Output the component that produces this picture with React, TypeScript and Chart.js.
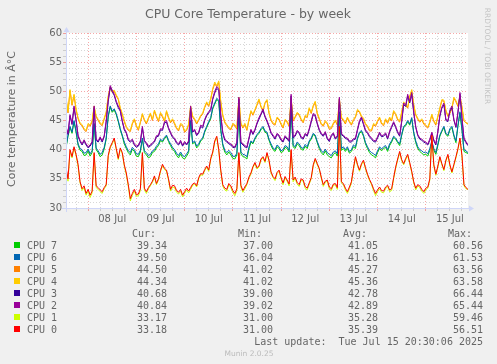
import React, { useEffect, useRef } from 'react';
import { Chart, registerables } from 'chart.js';

Chart.register(...registerables);

// ---- time axis (hours from the first sample, one sample per hour) ----
const STEP_HOURS = 1;
const X_MAX = 200;
const FIRST_MIDNIGHT = 11; // hours from start to 08 Jul 00:00
const DAY_LABELS = ['08 Jul', '09 Jul', '10 Jul', '11 Jul', '12 Jul', '13 Jul', '14 Jul', '15 Jul'];
const Y_MIN = 30;
const Y_MAX = 60;

// ---- series ----
const CPU0 = [37, 35, 40, 38.8, 40.5, 39.2, 37.5, 34.5, 33.3, 33.8, 32.5, 33.2, 32.2, 32.9, 39.5, 33.8, 33.5, 33.1, 32.8, 33.5, 34,
  39, 40.5, 41.2, 42, 40.2, 38.5, 40.3, 39.5, 37.4, 36, 34, 31.6, 32.5, 33.2, 32.3, 32.4, 33.3, 39.5, 33.4, 32.8,
  33.5, 34, 34.6, 35.5, 34.2, 35, 36.4, 37.5, 36.8, 36.5, 35, 33.2, 33.9, 33.8, 33, 32.7, 33.2, 32.2, 32.8, 33.4,
  32.9, 33.5, 34.1, 34.3, 33.8, 35.2, 35.9, 35.8, 36.6, 37.2, 36.5, 38.5, 39.6, 41.5, 42.3, 40, 36.5, 34, 33.4, 33.2,
  34.2, 33.8, 33, 32.5, 33.3, 39.5, 33.9, 33, 33.6, 34.2, 35.3, 36, 37.1, 37.8, 36.9, 37.2, 38.4, 38.8, 38, 39.5,
  38.2, 36.2, 35.4, 35, 36.1, 36.5, 35.2, 34.3, 35.4, 34.8, 34.1, 40, 34.8, 35.3, 34.4, 34, 35, 34.8, 33.7, 33.4,
  34.3, 35.2, 37.4, 38.5, 37.6, 36.8, 35.3, 34, 34.6, 34.8, 33.6, 33.3, 34.1, 34.2, 33.5, 44, 34.5, 34.2, 33.4, 32.8,
  33.6, 34.5, 36.8, 38.8, 37.5, 36.5, 37.6, 38.2, 36.9, 35.8, 34.9, 34.2, 33.3, 32.5, 33.1, 33.6, 33, 32.9, 33.6, 33.9,
  33.1, 33.3, 35.2, 37, 38.4, 39.7, 38.3, 37.6, 38.5, 39.2, 37.8, 36.3, 34.5, 33.4, 34, 33.8, 33.2, 32.8, 33.4, 33.6,
  35, 42.5, 37.4, 35.8, 37.2, 38.8, 37.6, 36.6, 38.2, 39.2, 37.4, 36.2, 37.5, 38.8, 40.2, 42, 39, 34, 33.5, 33.18];
const CPU1 = [36.7, 34.6, 39.8, 38.6, 40.3, 39, 37.2, 34.3, 33, 33.5, 32.2, 32.9, 31.8, 32.6, 39.3, 33.5, 33.2, 32.8, 32.5, 33.3, 33.8,
  38.8, 40.3, 41, 41.8, 40, 38.3, 40.1, 39.3, 37.2, 35.7, 33.7, 31.2, 32.2, 32.9, 32, 32.1, 33, 39.3, 33.1, 32.5,
  33.3, 33.8, 34.4, 35.3, 34, 34.8, 36.2, 37.3, 36.6, 36.3, 34.8, 32.9, 33.6, 33.5, 32.7, 32.4, 32.9, 31.9, 32.5, 33.1,
  32.6, 33.2, 33.9, 34.1, 33.6, 35, 35.7, 35.6, 36.4, 37, 36.3, 38.3, 39.4, 41.3, 42.1, 39.8, 36.3, 33.7, 33.1, 32.9,
  34, 33.5, 32.7, 32.1, 33, 39.3, 33.6, 32.7, 33.3, 34, 35.1, 35.8, 36.9, 37.6, 36.7, 37, 38.2, 38.6, 37.8, 39.3,
  38, 36, 35.2, 34.7, 35.9, 36.3, 35, 34, 35.2, 34.6, 33.8, 39.8, 34.5, 35.1, 34.1, 33.7, 34.8, 34.6, 33.4, 33.1,
  34.1, 35, 37.2, 38.3, 37.4, 36.6, 35.1, 33.7, 34.4, 34.6, 33.3, 33, 33.9, 34, 33.2, 43.8, 34.3, 34, 33.1, 32.5,
  33.3, 34.3, 36.6, 38.6, 37.3, 36.3, 37.4, 38, 36.7, 35.6, 34.7, 34, 33, 32.1, 32.8, 33.3, 32.7, 32.6, 33.3, 33.7,
  32.8, 33, 35, 36.8, 38.2, 39.5, 38.1, 37.4, 38.3, 39, 37.6, 36.1, 34.3, 33.1, 33.8, 33.5, 32.9, 32.5, 33.1, 33.4,
  34.8, 42.3, 37.2, 35.6, 37, 38.6, 37.4, 36.4, 38, 39, 37.2, 36, 37.3, 38.6, 40, 41.8, 38.8, 33.8, 33.3, 33.17];
const CPU2 = [44, 42.8, 46, 44.5, 47.5, 45.2, 42.5, 41.6, 41, 41.7, 41, 40.5, 40.8, 41.4, 47.5, 41.8, 41.5, 42.2, 41.5, 42.4, 45,
  48.5, 51, 50.2, 49.5, 48.3, 47.5, 46.8, 45, 43.6, 43, 41.8, 41.5, 41.8, 41, 40.6, 40.8, 41.5, 44, 41.6, 41.2,
  40.6, 40.8, 41.2, 41.5, 42.4, 42.5, 43.6, 43.5, 44.8, 45, 43.8, 43, 42.3, 42, 41.3, 41, 41.6, 40.8, 41.4, 41,
  41.5, 47.5, 43.2, 43.5, 42.6, 43, 44.2, 44, 45.2, 46, 46.5, 47, 48.8, 50, 50.8, 50.5, 46, 43, 41.8, 41.5,
  41.2, 41, 40.6, 40.5, 41.3, 49, 41.4, 41, 40.7, 40.5, 42, 43.5, 42.8, 43.5, 44.6, 45.5, 46.2, 47, 45.8, 45,
  44.1, 43, 42.5, 42, 42.8, 42.5, 41.8, 41.5, 42.4, 42, 41.6, 49.5, 42.2, 42.5, 43.3, 43, 42.2, 42, 42.8, 42.5,
  43.6, 45, 46.2, 46, 44.6, 43.5, 42.8, 42.5, 43.1, 42, 41.6, 42.5, 42.9, 42, 42.4, 49, 42.8, 42.5, 42.1, 42,
  41.5, 41.5, 41.9, 42, 43.5, 45, 45.6, 44.5, 43.4, 43, 42.4, 42, 41.6, 41.5, 42.2, 43, 42.4, 42.5, 42.9, 42,
  43.2, 44, 44.8, 44, 43.1, 42.5, 44.9, 48, 47.6, 49.5, 48.2, 49.8, 46.5, 44, 42.6, 42, 41.8, 41.5, 41.3, 41,
  41.8, 43, 41.7, 41, 43.2, 46, 47.3, 48, 45.2, 45, 46.8, 47.5, 45.2, 44, 46.5, 49.8, 45.5, 42, 41.4, 40.84];
const CPU3 = [43.8, 42.6, 45.8, 44.3, 47.2, 45, 42.3, 41.4, 40.8, 41.5, 40.8, 40.3, 40.6, 41.2, 47.2, 41.6, 41.3, 42, 41.3, 42.2, 44.7,
  48.2, 50.7, 50, 49.3, 48.1, 47.2, 46.6, 44.8, 43.4, 42.8, 41.6, 41.3, 41.6, 40.8, 40.4, 40.6, 41.3, 43.7, 41.4, 41,
  40.4, 40.6, 41, 41.3, 42.2, 42.3, 43.4, 43.3, 44.6, 44.7, 43.6, 42.8, 42.1, 41.8, 41.1, 40.8, 41.4, 40.6, 41.2, 40.8,
  41.3, 47.2, 43, 43.3, 42.4, 42.8, 44, 43.7, 45, 45.8, 46.3, 46.7, 48.6, 49.7, 50.5, 50.2, 45.8, 42.8, 41.6, 41.3,
  41, 40.8, 40.4, 40.3, 41.1, 48.7, 41.2, 40.8, 40.5, 40.3, 41.8, 43.3, 42.6, 43.3, 44.4, 45.2, 46, 46.7, 45.6, 44.8,
  43.9, 42.8, 42.3, 41.8, 42.6, 42.3, 41.6, 41.3, 42.2, 41.8, 41.4, 49.2, 42, 42.3, 43.1, 42.8, 42, 41.8, 42.6, 42.3,
  43.4, 44.7, 46, 45.7, 44.4, 43.3, 42.6, 42.3, 42.9, 41.8, 41.4, 42.3, 42.7, 41.8, 42.2, 48.7, 42.6, 42.3, 41.9, 41.8,
  41.3, 41.3, 41.7, 41.8, 43.3, 44.7, 45.4, 44.3, 43.2, 42.8, 42.2, 41.8, 41.4, 41.3, 42, 42.8, 42.2, 42.3, 42.7, 41.8,
  43, 43.8, 44.6, 43.8, 42.9, 42.3, 44.7, 47.7, 47.4, 49.2, 48, 49.5, 46.3, 43.8, 42.4, 41.8, 41.6, 41.3, 41.1, 40.8,
  41.6, 42.8, 41.5, 40.8, 43, 45.7, 47.1, 47.7, 45, 44.8, 46.6, 47.2, 45, 43.8, 46.3, 49.5, 45.3, 41.8, 41.2, 40.68];
const CPU4 = [49, 46.5, 50.3, 47.8, 49.5, 47, 45.5, 44.6, 44.3, 43.6, 43.3, 44.5, 44.2, 45, 47.5, 45.8, 45.2, 44.6, 44.3, 45.4, 46.5,
  49.2, 50.8, 50, 50.2, 49.4, 48.8, 47.2, 46.2, 45, 44, 43.5, 43.3, 44.6, 45.3, 44.2, 43.5, 44.8, 46.2, 45.2, 44.6,
  45.5, 46.3, 45.2, 46.8, 45.8, 45, 46.4, 45.8, 45, 46.7, 45.6, 44.8, 45.3, 44.6, 43.8, 43.4, 44.5, 44.3, 43.2, 43.5,
  44.4, 47.5, 45.8, 45.3, 44.6, 45.2, 45.9, 46.3, 47.4, 48.2, 47.6, 48.8, 50.5, 51.6, 51, 51.8, 48.3, 46, 44.8, 44.3,
  43.8, 43.6, 44.5, 44.3, 43.7, 49, 44.6, 43.9, 44.5, 43.5, 45.2, 46.7, 46.1, 46.9, 47.8, 48.7, 47.5, 46.8, 48.1, 48.6,
  46.4, 45.2, 44.6, 44.4, 45.6, 45.3, 44.5, 43.9, 45.2, 44.9, 44.2, 49, 45.1, 45.7, 46.4, 46.1, 45.3, 44.8, 45.9, 45.7,
  47.2, 46.4, 47.6, 48.3, 46.3, 45.4, 44.5, 44.2, 45, 44.6, 43.7, 43.8, 44.6, 45.1, 44.4, 48.8, 45.6, 45.2, 44.6, 45.6,
  44.9, 44.4, 45.2, 45.7, 46.9, 46.6, 45.8, 45.4, 44.5, 44.1, 43.4, 43.4, 44.5, 44.2, 45, 45.6, 44.6, 44.3, 45.3, 44.7,
  45.6, 45.1, 46.7, 46.2, 45.3, 44.9, 46.5, 48.2, 47.8, 47.3, 49.2, 50.3, 47.8, 46.1, 45.4, 44.9, 45.3, 44.6, 44.2, 43.9,
  44.8, 46.1, 45, 44.4, 45.8, 47.2, 48.6, 48.5, 46.8, 45.9, 46.4, 47.2, 49, 48.4, 47.6, 49.2, 47.4, 45, 44.6, 44.34];
const CPU5 = [48.8, 46.3, 50.1, 47.6, 49.3, 46.8, 45.3, 44.4, 44.1, 43.4, 43.1, 44.3, 44, 44.8, 47.3, 45.6, 45, 44.4, 44.1, 45.2, 46.3,
  49, 50.6, 49.8, 50, 49.2, 48.6, 47, 46, 44.8, 43.8, 43.3, 43.1, 44.4, 45.1, 44, 43.3, 44.6, 46, 45, 44.4,
  45.3, 46.1, 45, 46.6, 45.6, 44.8, 46.2, 45.6, 44.8, 46.5, 45.4, 44.6, 45.1, 44.4, 43.6, 43.2, 44.3, 44.1, 43, 43.3,
  44.2, 47.3, 45.6, 45.1, 44.4, 45, 45.7, 46.1, 47.2, 48, 47.4, 48.6, 50.3, 51.3, 50.8, 51.5, 48.1, 45.8, 44.6, 44.1,
  43.6, 43.4, 44.3, 44.1, 43.5, 48.8, 44.4, 43.7, 44.3, 43.3, 45, 46.5, 45.9, 46.7, 47.6, 48.5, 47.3, 46.6, 47.9, 48.4,
  46.2, 45, 44.4, 44.2, 45.4, 45.1, 44.3, 43.7, 45, 44.7, 44, 48.8, 44.9, 45.5, 46.2, 45.9, 45.1, 44.6, 45.7, 45.5,
  47, 46.2, 47.4, 48.1, 46.1, 45.2, 44.3, 44, 44.8, 44.4, 43.5, 43.6, 44.4, 44.9, 44.2, 48.6, 45.4, 45, 44.4, 45.4,
  44.7, 44.2, 45, 45.5, 46.7, 46.4, 45.6, 45.2, 44.3, 43.9, 43.2, 43.2, 44.3, 44, 44.8, 45.4, 44.4, 44.1, 45.1, 44.5,
  45.4, 44.9, 46.5, 46, 45.1, 44.7, 46.3, 48, 47.6, 47.1, 49, 50.1, 47.6, 45.9, 45.2, 44.7, 45.1, 44.4, 44, 43.7,
  44.6, 45.9, 44.8, 44.2, 45.6, 47, 48.4, 48.3, 46.6, 45.7, 46.2, 47, 48.8, 48.2, 47.4, 49, 47.2, 44.9, 44.6, 44.5];
const CPU6 = [40.5, 42.5, 44, 43, 45, 43.2, 41, 40.2, 40, 39.4, 39.5, 40.1, 39.3, 39.8, 44.5, 40.3, 39.8, 39.2, 39.5, 40.4, 42,
  45.8, 47.5, 46.6, 47, 46.2, 45, 43.6, 42.5, 41.3, 40.5, 39.8, 39.5, 40.4, 40, 39.3, 39.2, 39.9, 42, 39.8, 39.5,
  39, 39.2, 39.8, 40, 40.6, 41, 41.8, 41.5, 42.1, 42.5, 41.6, 41, 40.4, 40, 39.4, 39, 39.6, 39, 38.8, 39.3,
  39.8, 45, 41.2, 41.5, 40.6, 41, 41.7, 42, 43.2, 44, 44.8, 45.5, 47.2, 48, 48.8, 48.5, 43.5, 41, 39.9, 39.5,
  39.9, 39.5, 38.9, 38.8, 39.4, 46.5, 39.6, 39.2, 39.1, 38.8, 40.4, 41.5, 41.2, 42, 42.6, 43, 43.6, 44, 43.2, 43,
  41.8, 41, 40.3, 40, 40.8, 40.5, 39.8, 40, 40.7, 40.5, 39.9, 47, 40.8, 40.5, 41.3, 41, 40.4, 40.2, 40.9, 40.5,
  41.5, 42, 42.8, 42.5, 41.4, 40.5, 39.8, 39.5, 40.1, 39.5, 39.2, 39, 39.6, 39.8, 39.3, 46.5, 40.2, 40.5, 40, 40.5,
  39.7, 40, 40.8, 40.5, 42, 43, 43.3, 42.5, 41.2, 40.5, 39.8, 39.5, 39.3, 39, 39.8, 40.5, 40.1, 40.5, 40.7, 40,
  41, 41.5, 42.3, 42, 41.4, 41, 42.6, 44, 44.3, 45, 44.4, 45.5, 43, 41.5, 40.5, 40, 39.8, 39.5, 39.6, 39.3,
  40.2, 41.5, 40.2, 39.5, 41, 42.5, 43.3, 44, 42.8, 42.5, 43.6, 44, 42.5, 41.5, 44.2, 46.5, 43.5, 40, 39.8, 39.5];
const CPU7 = [40.3, 42.3, 43.8, 42.8, 44.8, 43, 40.8, 39.9, 39.7, 39, 39.1, 39.8, 38.9, 39.5, 44.3, 40, 39.5, 38.8, 39.1, 40.1, 41.8,
  45.6, 47.3, 46.4, 46.8, 46, 44.8, 43.4, 42.3, 41, 40.2, 39.5, 39.1, 40.1, 39.7, 38.9, 38.8, 39.6, 41.8, 39.5, 39.1,
  38.6, 38.8, 39.5, 39.7, 40.3, 40.7, 41.6, 41.3, 41.9, 42.3, 41.4, 40.7, 40.1, 39.7, 39, 38.6, 39.3, 38.6, 38.4, 38.9,
  39.5, 44.8, 41, 41.3, 40.3, 40.7, 41.5, 41.8, 43, 43.8, 44.6, 45.3, 47, 47.8, 48.6, 48.3, 43.3, 40.7, 39.6, 39.1,
  39.6, 39.1, 38.5, 38.4, 39.1, 46.3, 39.3, 38.8, 38.7, 38.4, 40.1, 41.3, 41, 41.8, 42.4, 42.8, 43.4, 43.8, 43, 42.8,
  41.6, 40.7, 40, 39.7, 40.5, 40.2, 39.5, 39.7, 40.4, 40.2, 39.6, 46.8, 40.5, 40.2, 41, 40.7, 40.1, 39.9, 40.6, 40.2,
  41.3, 41.8, 42.6, 42.3, 41.2, 40.2, 39.5, 39.1, 39.8, 39.1, 38.8, 38.6, 39.2, 39.5, 38.9, 46.3, 39.9, 40.2, 39.7, 40.2,
  39.4, 39.7, 40.5, 40.2, 41.8, 42.8, 43.1, 42.3, 41, 40.2, 39.5, 39.1, 38.9, 38.6, 39.5, 40.2, 39.8, 40.2, 40.4, 39.7,
  40.7, 41.3, 42.1, 41.8, 41.2, 40.7, 42.4, 43.8, 44.1, 44.8, 44.2, 45.3, 42.8, 41.2, 40.2, 39.7, 39.4, 39.1, 39.2, 38.9,
  39.9, 41.3, 39.9, 39.2, 40.7, 42.3, 43.1, 43.8, 42.6, 42.3, 43.4, 43.8, 42.3, 41.2, 44, 46.3, 43.3, 39.7, 39.5, 39.34];

// ---- legend (top to bottom) ----
const LEGEND_NAMES = ['CPU 7', 'CPU 6', 'CPU 5', 'CPU 4', 'CPU 3', 'CPU 2', 'CPU 1', 'CPU 0'];
const LEGEND_COLORS = ['#00CC00', '#0066B3', '#FF8000', '#FFCC00', '#330099', '#990099', '#CCFF00', '#FF0000'];
const LEGEND_SERIES = [CPU7, CPU6, CPU5, CPU4, CPU3, CPU2, CPU1, CPU0];
const CUR = [39.34, 39.50, 44.50, 44.34, 40.68, 40.84, 33.17, 33.18];
const MIN = [37.00, 36.04, 41.02, 41.02, 39.00, 39.02, 31.00, 31.00];
const AVG = [41.05, 41.16, 45.27, 45.36, 42.78, 42.89, 35.28, 35.39];
const MAX = [60.56, 61.53, 63.56, 63.58, 66.44, 65.44, 59.46, 56.51];

const TITLE = 'CPU Core Temperature - by week';
const Y_TITLE = 'Core temperature in Â°C';
const LAST_UPDATE = 'Last update:  Tue Jul 15 20:30:06 2025';
const WATERMARK = 'RRDTOOL / TOBI OETIKER';
const FOOTER = 'Munin 2.0.25';

const FONT_COLOR = '#666666';
const AXIS_COLOR = '#CFD6F8';
const GRID_COLOR = 'rgba(140,140,140,0.35)';
const MGRID_COLOR = 'rgba(235,60,60,0.45)';

const X_GRID: number[] = [];
for (let h = FIRST_MIDNIGHT % 6; h < X_MAX; h += 6) X_GRID.push(h);
const Y_GRID: number[] = [];
for (let v = Y_MIN; v <= Y_MAX; v += 1) Y_GRID.push(v);

const isMidnight = (h: number) => (((h - FIRST_MIDNIGHT) % 24) + 24) % 24 === 0;
const dayLabel = (h: number) => {
  const rel = h - FIRST_MIDNIGHT;
  if (((rel % 24) + 24) % 24 !== 12) return '';
  return DAY_LABELS[Math.floor(rel / 24)] ?? '';
};

const muninPlugin = {
  id: 'muninDecor',
  beforeDraw(chart: any) {
    const { ctx, chartArea: a, width, height } = chart;
    ctx.save();
    ctx.fillStyle = '#F0F0F0';
    ctx.fillRect(0, 0, width, height);
    ctx.fillStyle = '#FFFFFF';
    ctx.fillRect(a.left, a.top, a.right - a.left, a.bottom - a.top);
    ctx.restore();
  },
  afterDraw(chart: any) {
    const { ctx, chartArea: a } = chart;
    ctx.save();
    // axes with arrows
    ctx.strokeStyle = AXIS_COLOR;
    ctx.fillStyle = AXIS_COLOR;
    ctx.lineWidth = 1;
    const ax = Math.round(a.left) + 0.5;
    const ay = Math.round(a.bottom) + 0.5;
    ctx.beginPath();
    ctx.moveTo(a.left - 4, ay);
    ctx.lineTo(a.right + 3, ay);
    ctx.moveTo(ax, a.bottom + 4);
    ctx.lineTo(ax, a.top - 3);
    ctx.stroke();
    ctx.beginPath();
    ctx.moveTo(a.right + 1, ay - 3);
    ctx.lineTo(a.right + 6, ay);
    ctx.lineTo(a.right + 1, ay + 3);
    ctx.closePath();
    ctx.fill();
    ctx.beginPath();
    ctx.moveTo(ax - 3, a.top - 1);
    ctx.lineTo(ax, a.top - 6);
    ctx.lineTo(ax + 3, a.top - 1);
    ctx.closePath();
    ctx.fill();

    // title
    ctx.fillStyle = FONT_COLOR;
    ctx.font = '12.5px "DejaVu Sans"';
    ctx.textAlign = 'center';
    ctx.textBaseline = 'alphabetic';
    ctx.fillText(TITLE, 248, 18);

    // y axis title
    ctx.save();
    ctx.translate(15, 119);
    ctx.rotate(-Math.PI / 2);
    ctx.font = '11px "DejaVu Sans"';
    ctx.textAlign = 'center';
    ctx.fillText(Y_TITLE, 0, 0);
    ctx.restore();

    // watermark
    ctx.save();
    ctx.translate(485, 56);
    ctx.rotate(Math.PI / 2);
    ctx.font = '7.5px "DejaVu Sans"';
    ctx.fillStyle = '#C4C4C4';
    ctx.textAlign = 'center';
    ctx.fillText(WATERMARK, 0, 0);
    ctx.restore();

    // legend
    ctx.font = '10px "DejaVu Sans Mono"';
    ctx.fillStyle = FONT_COLOR;
    const colRight = [167, 273, 378, 483];
    const heads = ['Cur:', 'Min:', 'Avg:', 'Max:'];
    const headLeft = [132, 238, 343, 448];
    ctx.textAlign = 'left';
    heads.forEach((h, i) => ctx.fillText(h, headLeft[i], 237));
    LEGEND_NAMES.forEach((name, r) => {
      const base = 249 + r * 12;
      ctx.fillStyle = LEGEND_COLORS[r];
      ctx.fillRect(14, base - 7, 6, 6);
      ctx.fillStyle = FONT_COLOR;
      ctx.textAlign = 'left';
      ctx.fillText(name, 27, base);
      ctx.textAlign = 'right';
      [CUR[r], MIN[r], AVG[r], MAX[r]].forEach((v, c) => ctx.fillText(v.toFixed(2), colRight[c], base));
    });
    ctx.textAlign = 'right';
    ctx.fillText(LAST_UPDATE, 483, 345);

    ctx.font = '7.5px "DejaVu Sans"';
    ctx.fillStyle = '#BBBBBB';
    ctx.textAlign = 'center';
    ctx.fillText(FOOTER, 249, 356);
    ctx.restore();
  },
};

export default function App() {
  const canvasRef = useRef<HTMLCanvasElement | null>(null);

  useEffect(() => {
    document.body.style.margin = '0';
    const canvas = canvasRef.current;
    if (!canvas) return;
    // Chart.js paints dataset 0 last, so CPU 0 goes first to end up on top.
    const datasets = [...LEGEND_SERIES].reverse().map((series, k) => {
      const idx = LEGEND_SERIES.length - 1 - k;
      return {
        label: LEGEND_NAMES[idx],
        data: series.map((y, i) => ({ x: i * STEP_HOURS, y })),
        borderColor: LEGEND_COLORS[idx],
        backgroundColor: LEGEND_COLORS[idx],
        borderWidth: 1,
        pointRadius: 0,
        tension: 0,
        fill: false,
      };
    });
    const tickFont = { family: 'DejaVu Sans', size: 10 };
    const chart = new Chart(canvas, {
      type: 'line',
      data: { datasets },
      plugins: [muninPlugin],
      options: {
        responsive: false,
        animation: false,
        devicePixelRatio: 1,
        layout: { padding: { left: 0, top: 33, right: 29, bottom: 136 } },
        plugins: { legend: { display: false }, title: { display: false }, tooltip: { enabled: false } },
        scales: {
          x: {
            type: 'linear',
            min: 0,
            max: X_MAX,
            afterBuildTicks: (scale: any) => { scale.ticks = X_GRID.map((value) => ({ value })); },
            afterFit: (scale: any) => { scale.height = 20; },
            ticks: {
              autoSkip: false,
              maxRotation: 0,
              minRotation: 0,
              padding: 2,
              color: FONT_COLOR,
              font: tickFont,
              callback: (v: any) => dayLabel(Number(v)),
            },
            grid: {
              color: (c: any) => (isMidnight(c.tick?.value) ? MGRID_COLOR : GRID_COLOR),
              tickColor: (c: any) => (isMidnight(c.tick?.value) ? MGRID_COLOR : GRID_COLOR),
              lineWidth: 1,
              drawTicks: true,
              tickLength: 3,
            },
            border: { display: false, dash: [1, 2] },
          },
          y: {
            min: Y_MIN,
            max: Y_MAX,
            afterBuildTicks: (scale: any) => { scale.ticks = Y_GRID.map((value) => ({ value })); },
            afterFit: (scale: any) => { scale.width = 66; },
            ticks: {
              autoSkip: false,
              padding: 1,
              color: FONT_COLOR,
              font: tickFont,
              callback: (v: any) => (Number(v) % 5 === 0 ? String(v) : ''),
            },
            grid: {
              color: (c: any) => (c.tick && c.tick.value % 5 === 0 ? MGRID_COLOR : GRID_COLOR),
              tickColor: (c: any) => (c.tick && c.tick.value % 5 === 0 ? MGRID_COLOR : GRID_COLOR),
              lineWidth: 1,
              drawTicks: true,
              tickLength: 3,
            },
            border: { display: false, dash: [1, 2] },
          },
        },
      } as any,
    });
    return () => chart.destroy();
  }, []);

  return <canvas ref={canvasRef} width={497} height={364} style={{ display: 'block' }} />;
}
